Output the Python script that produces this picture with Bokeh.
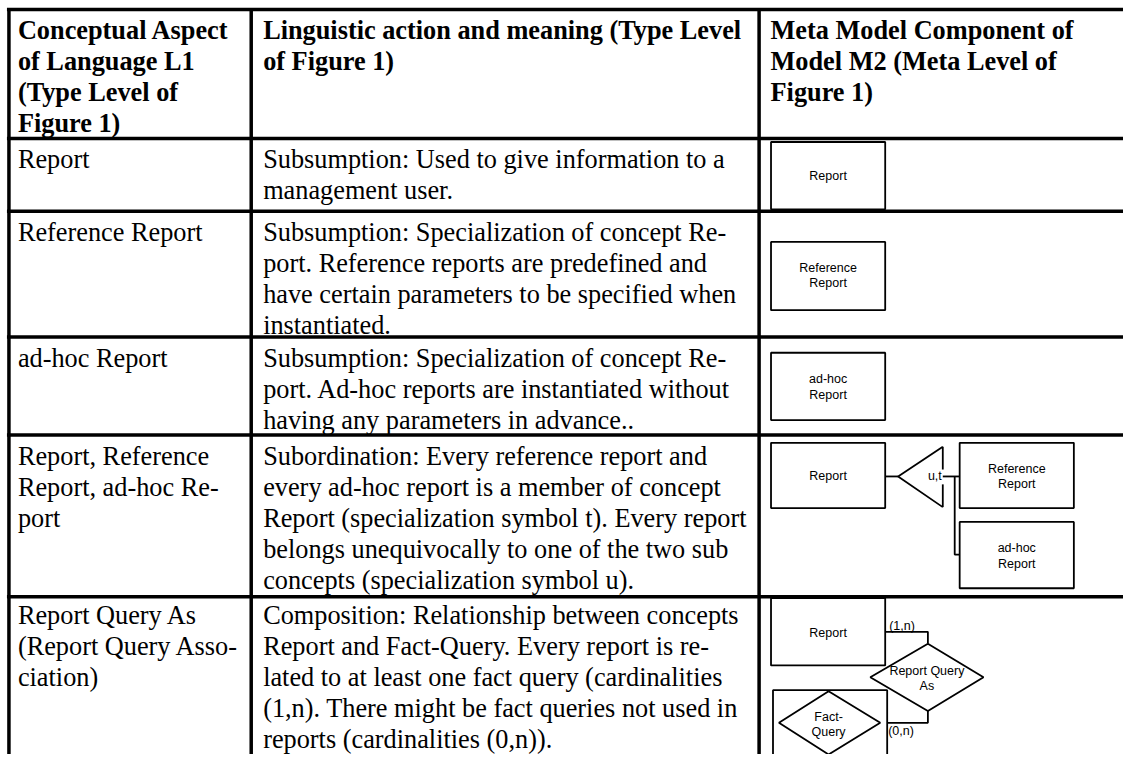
from bokeh.plotting import figure
from bokeh.models import Range1d
from bokeh.embed import file_html
from bokeh.resources import INLINE
from bokeh.core.properties import value

# ---------------- table content ----------------
header_cells = [
    ["Conceptual Aspect", "of Language L1", "(Type Level of", "Figure 1)"],
    ["Linguistic action and meaning (Type Level", "of Figure 1)"],
    ["Meta Model Component of", "Model M2 (Meta Level of", "Figure 1)"],
]
aspect_cells = [
    ["Report"],
    ["Reference Report"],
    ["ad-hoc Report"],
    ["Report, Reference", "Report, ad-hoc Re-", "port"],
    ["Report Query As", "(Report Query Asso-", "ciation)"],
]
meaning_cells = [
    ["Subsumption: Used to give information to a", "management user."],
    ["Subsumption: Specialization of concept Re-",
     "port. Reference reports are predefined and",
     "have certain parameters to be specified when",
     "instantiated."],
    ["Subsumption: Specialization of concept Re-",
     "port. Ad-hoc reports are instantiated without",
     "having any parameters in advance.."],
    ["Subordination: Every reference report and",
     "every ad-hoc report is a member of concept",
     "Report (specialization symbol t). Every report",
     "belongs unequivocally to one of the two sub",
     "concepts (specialization symbol u)."],
    ["Composition: Relationship between concepts",
     "Report and Fact-Query. Every report is re-",
     "lated to at least one fact query (cardinalities",
     "(1,n). There might be fact queries not used in",
     "reports (cardinalities (0,n))."],
]

# table grid (reference pixel positions)
row_lines = [9, 139.5, 213, 340, 439, 602.5]
row_first_baseline = [36, 167, 240.5, 368, 466.5, 627.3]
col_lines = [8.5, 252.5, 764]
col_text_x = [17.5, 264.5, 775.5]
line_step = 31.4
baseline_shift = -6

# ---------------- meta model diagram ----------------
box_left = [776, 776, 776, 776, 966, 966, 776, 778]
box_right = [891, 891, 891, 891, 1081, 1081, 891, 893]
box_top = [143, 244, 356, 447, 447, 527, 604, 697]
box_bottom = [211, 313, 424, 513, 513, 594, 672, 775]

label_x = [833.5, 833.5, 833.5, 833.5, 833.5, 833.5, 1023.5, 1023.5, 1023.5, 1023.5,
           833.5, 933, 933, 834, 834, 941]
label_y = [177, 270, 286, 383, 399, 481, 473, 489, 553, 569, 639, 678, 693, 724, 739, 481]
label_text = ["Report", "Reference", "Report", "ad-hoc", "Report", "Report",
              "Reference", "Report", "ad-hoc", "Report", "Report",
              "Report Query", "As", "Fact-", "Query", "u,t"]
card_x = [895, 894]
card_y = [632, 738]
card_text = ["(1,n)", "(0,n)"]

connector_xs = [
    [891, 904],
    [949, 904, 949],
    [949, 949],
    [949, 949],
    [949, 966],
    [961, 961, 966],
    [891, 934, 934],
    [934, 990, 934, 876, 934],
    [934, 934, 893],
    [834, 886, 834, 784, 834],
]
connector_ys = [
    [481, 481],
    [451, 481, 512],
    [451, 474],
    [489, 512],
    [481, 481],
    [481, 560, 560],
    [638, 638, 650],
    [650, 684, 718, 684, 650],
    [718, 730, 730],
    [698, 730, 762, 730, 698],
]

# ---------------- figure ----------------
p = figure(width=1123, height=754,
           x_range=Range1d(0, 1131), y_range=Range1d(762, 0),
           output_backend="svg", toolbar_location=None,
           x_axis_location=None, y_axis_location=None, min_border=0)
p.grid.visible = False
p.outline_line_color = None
p.background_fill_color = "white"
p.border_fill_color = "white"

# grid lines
p.segment(x0=[col_lines[0] - 2] * len(row_lines), x1=[1131] * len(row_lines),
          y0=row_lines, y1=row_lines, line_color="black", line_width=3.5)
p.segment(x0=col_lines, x1=col_lines, y0=[row_lines[0] - 1.5] * len(col_lines),
          y1=[762] * len(col_lines), line_color="black", line_width=3.5)

serif = value("Liberation Serif")
sans = value("Liberation Sans")

# header
hx, hy, ht = [], [], []
for c, lines in enumerate(header_cells):
    for i, t in enumerate(lines):
        hx.append(col_text_x[c])
        hy.append(row_first_baseline[0] + i * line_step + baseline_shift)
        ht.append(t)
p.text(x=hx, y=hy, text=ht, text_font=serif, text_font_size="26.3px",
       text_font_style="bold", text_baseline="alphabetic", text_align="left",
       text_color="black")

# body
bx, by, bt = [], [], []
for r in range(len(aspect_cells)):
    for c, cells in enumerate([aspect_cells, meaning_cells]):
        for i, t in enumerate(cells[r]):
            bx.append(col_text_x[c])
            by.append(row_first_baseline[r + 1] + i * line_step + baseline_shift)
            bt.append(t)
p.text(x=bx, y=by, text=bt, text_font=serif, text_font_size="26.3px",
       text_baseline="alphabetic", text_align="left", text_color="black")

# diagram
p.quad(left=box_left, right=box_right, top=box_top, bottom=box_bottom,
       fill_color="white", line_color="black", line_width=1.8)
p.multi_line(xs=connector_xs, ys=connector_ys, line_color="black", line_width=1.8)
p.text(x=label_x, y=label_y, text=label_text, text_font=sans,
       text_font_size="12.5px", text_align="center", text_baseline="middle",
       text_color="black")
p.text(x=card_x, y=card_y, text=card_text, text_font=sans,
       text_font_size="12.5px", text_align="left", text_baseline="middle",
       text_color="black")

open("out.html", "w").write(file_html(p, INLINE))
